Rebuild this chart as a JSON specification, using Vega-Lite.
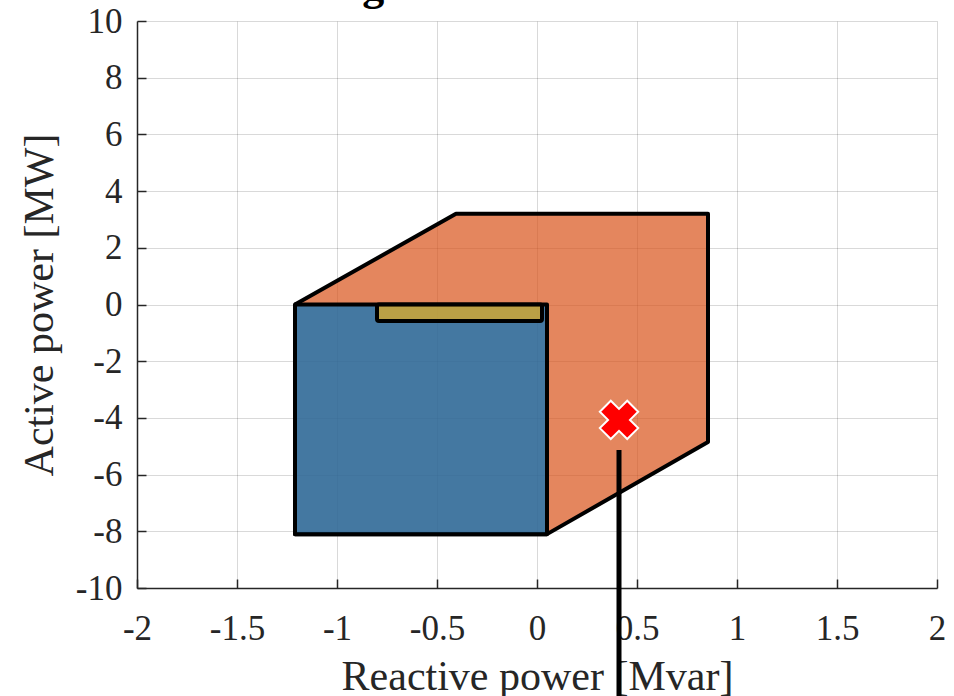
{
  "$schema": "https://vega.github.io/schema/vega-lite/v6.json",
  "width": 800,
  "height": 567,
  "autosize": {"type": "none"},
  "padding": {"left": 137, "top": 21, "right": 17, "bottom": 108},
  "background": "white",
  "title": {
    "text": "Feasible region",
    "font": "Liberation Serif",
    "fontSize": 44,
    "fontWeight": "bold",
    "color": "#000000",
    "anchor": "start",
    "frame": "group",
    "baseline": "alphabetic",
    "dx": 22,
    "dy": 40,
    "offset": 0
  },
  "datasets": {
    "poly": [
      {"i": 0, "q": -1.21, "p": 0},
      {"i": 1, "q": -0.405, "p": 3.2},
      {"i": 2, "q": 0.855, "p": 3.2},
      {"i": 3, "q": 0.855, "p": -4.85},
      {"i": 4, "q": 0.05, "p": -8.1},
      {"i": 5, "q": -1.21, "p": -8.1},
      {"i": 6, "q": -1.21, "p": 0}
    ],
    "front": [{"q1": -1.21, "q2": 0.05, "p1": -8.1, "p2": 0}],
    "bar": [{"q1": -0.8, "q2": 0.025, "p1": -0.58, "p2": 0}],
    "point": [{"q": 0.41, "p": -4.07}],
    "stem": [{"q": 0.41, "p1": -5.13, "p2": -14.5}]
  },
  "config": {
    "view": {"stroke": null},
    "axis": {
      "labelFont": "Liberation Serif",
      "labelFontSize": 35,
      "labelColor": "#262626",
      "titleFont": "Liberation Serif",
      "titleFontSize": 42,
      "titleFontWeight": "normal",
      "titleColor": "#262626",
      "domainColor": "#262626",
      "domainWidth": 1.5,
      "tickColor": "#262626",
      "tickWidth": 1.5,
      "tickSize": -9,
      "grid": true,
      "gridColor": "#000000",
      "gridOpacity": 0.15,
      "gridWidth": 1,
      "labelOverlap": false,
      "labelFlush": false,
      "labelBound": false,
      "labelExpr": "'' + datum.value"
    }
  },
  "layer": [
    {
      "data": {"name": "poly"},
      "mark": {"type": "line", "fill": "#D95319", "fillOpacity": 0.7, "stroke": "#000000", "strokeWidth": 4, "strokeJoin": "round"},
      "encoding": {
        "x": {"field": "q", "type": "quantitative", "scale": {"domain": [-2, 2], "nice": false},
          "axis": {"values": [-2, -1.5, -1, -0.5, 0, 0.5, 1, 1.5, 2], "title": "Reactive power [Mvar]", "labelPadding": 32, "titlePadding": 10}},
        "y": {"field": "p", "type": "quantitative", "scale": {"domain": [-10, 10], "nice": false},
          "axis": {"values": [-10, -8, -6, -4, -2, 0, 2, 4, 6, 8, 10], "title": "Active power [MW]", "labelPadding": 24, "titlePadding": 14}},
        "order": {"field": "i", "type": "quantitative"}
      }
    },
    {
      "data": {"name": "front"},
      "mark": {"type": "rect", "fill": "#0072BD", "fillOpacity": 0.7, "stroke": "#000000", "strokeWidth": 4, "strokeJoin": "round"},
      "encoding": {
        "x": {"field": "q1", "type": "quantitative"},
        "x2": {"field": "q2"},
        "y": {"field": "p1", "type": "quantitative"},
        "y2": {"field": "p2"}
      }
    },
    {
      "data": {"name": "bar"},
      "mark": {"type": "rect", "fill": "#EDB120", "fillOpacity": 0.7, "stroke": "#000000", "strokeWidth": 4, "cornerRadius": 2, "strokeJoin": "round"},
      "encoding": {
        "x": {"field": "q1", "type": "quantitative"},
        "x2": {"field": "q2"},
        "y": {"field": "p1", "type": "quantitative"},
        "y2": {"field": "p2"}
      }
    },
    {
      "data": {"name": "stem"},
      "mark": {"type": "rule", "color": "#000000", "strokeWidth": 5},
      "encoding": {
        "x": {"field": "q", "type": "quantitative"},
        "y": {"field": "p1", "type": "quantitative"},
        "y2": {"field": "p2"}
      }
    },
    {
      "data": {"name": "point"},
      "mark": {"type": "point", "shape": "cross", "angle": 45, "filled": true, "fill": "#FF0000", "fillOpacity": 1, "opacity": 1, "stroke": "#FFFFFF", "strokeWidth": 2, "size": 1500},
      "encoding": {
        "x": {"field": "q", "type": "quantitative"},
        "y": {"field": "p", "type": "quantitative"}
      }
    }
  ]
}
